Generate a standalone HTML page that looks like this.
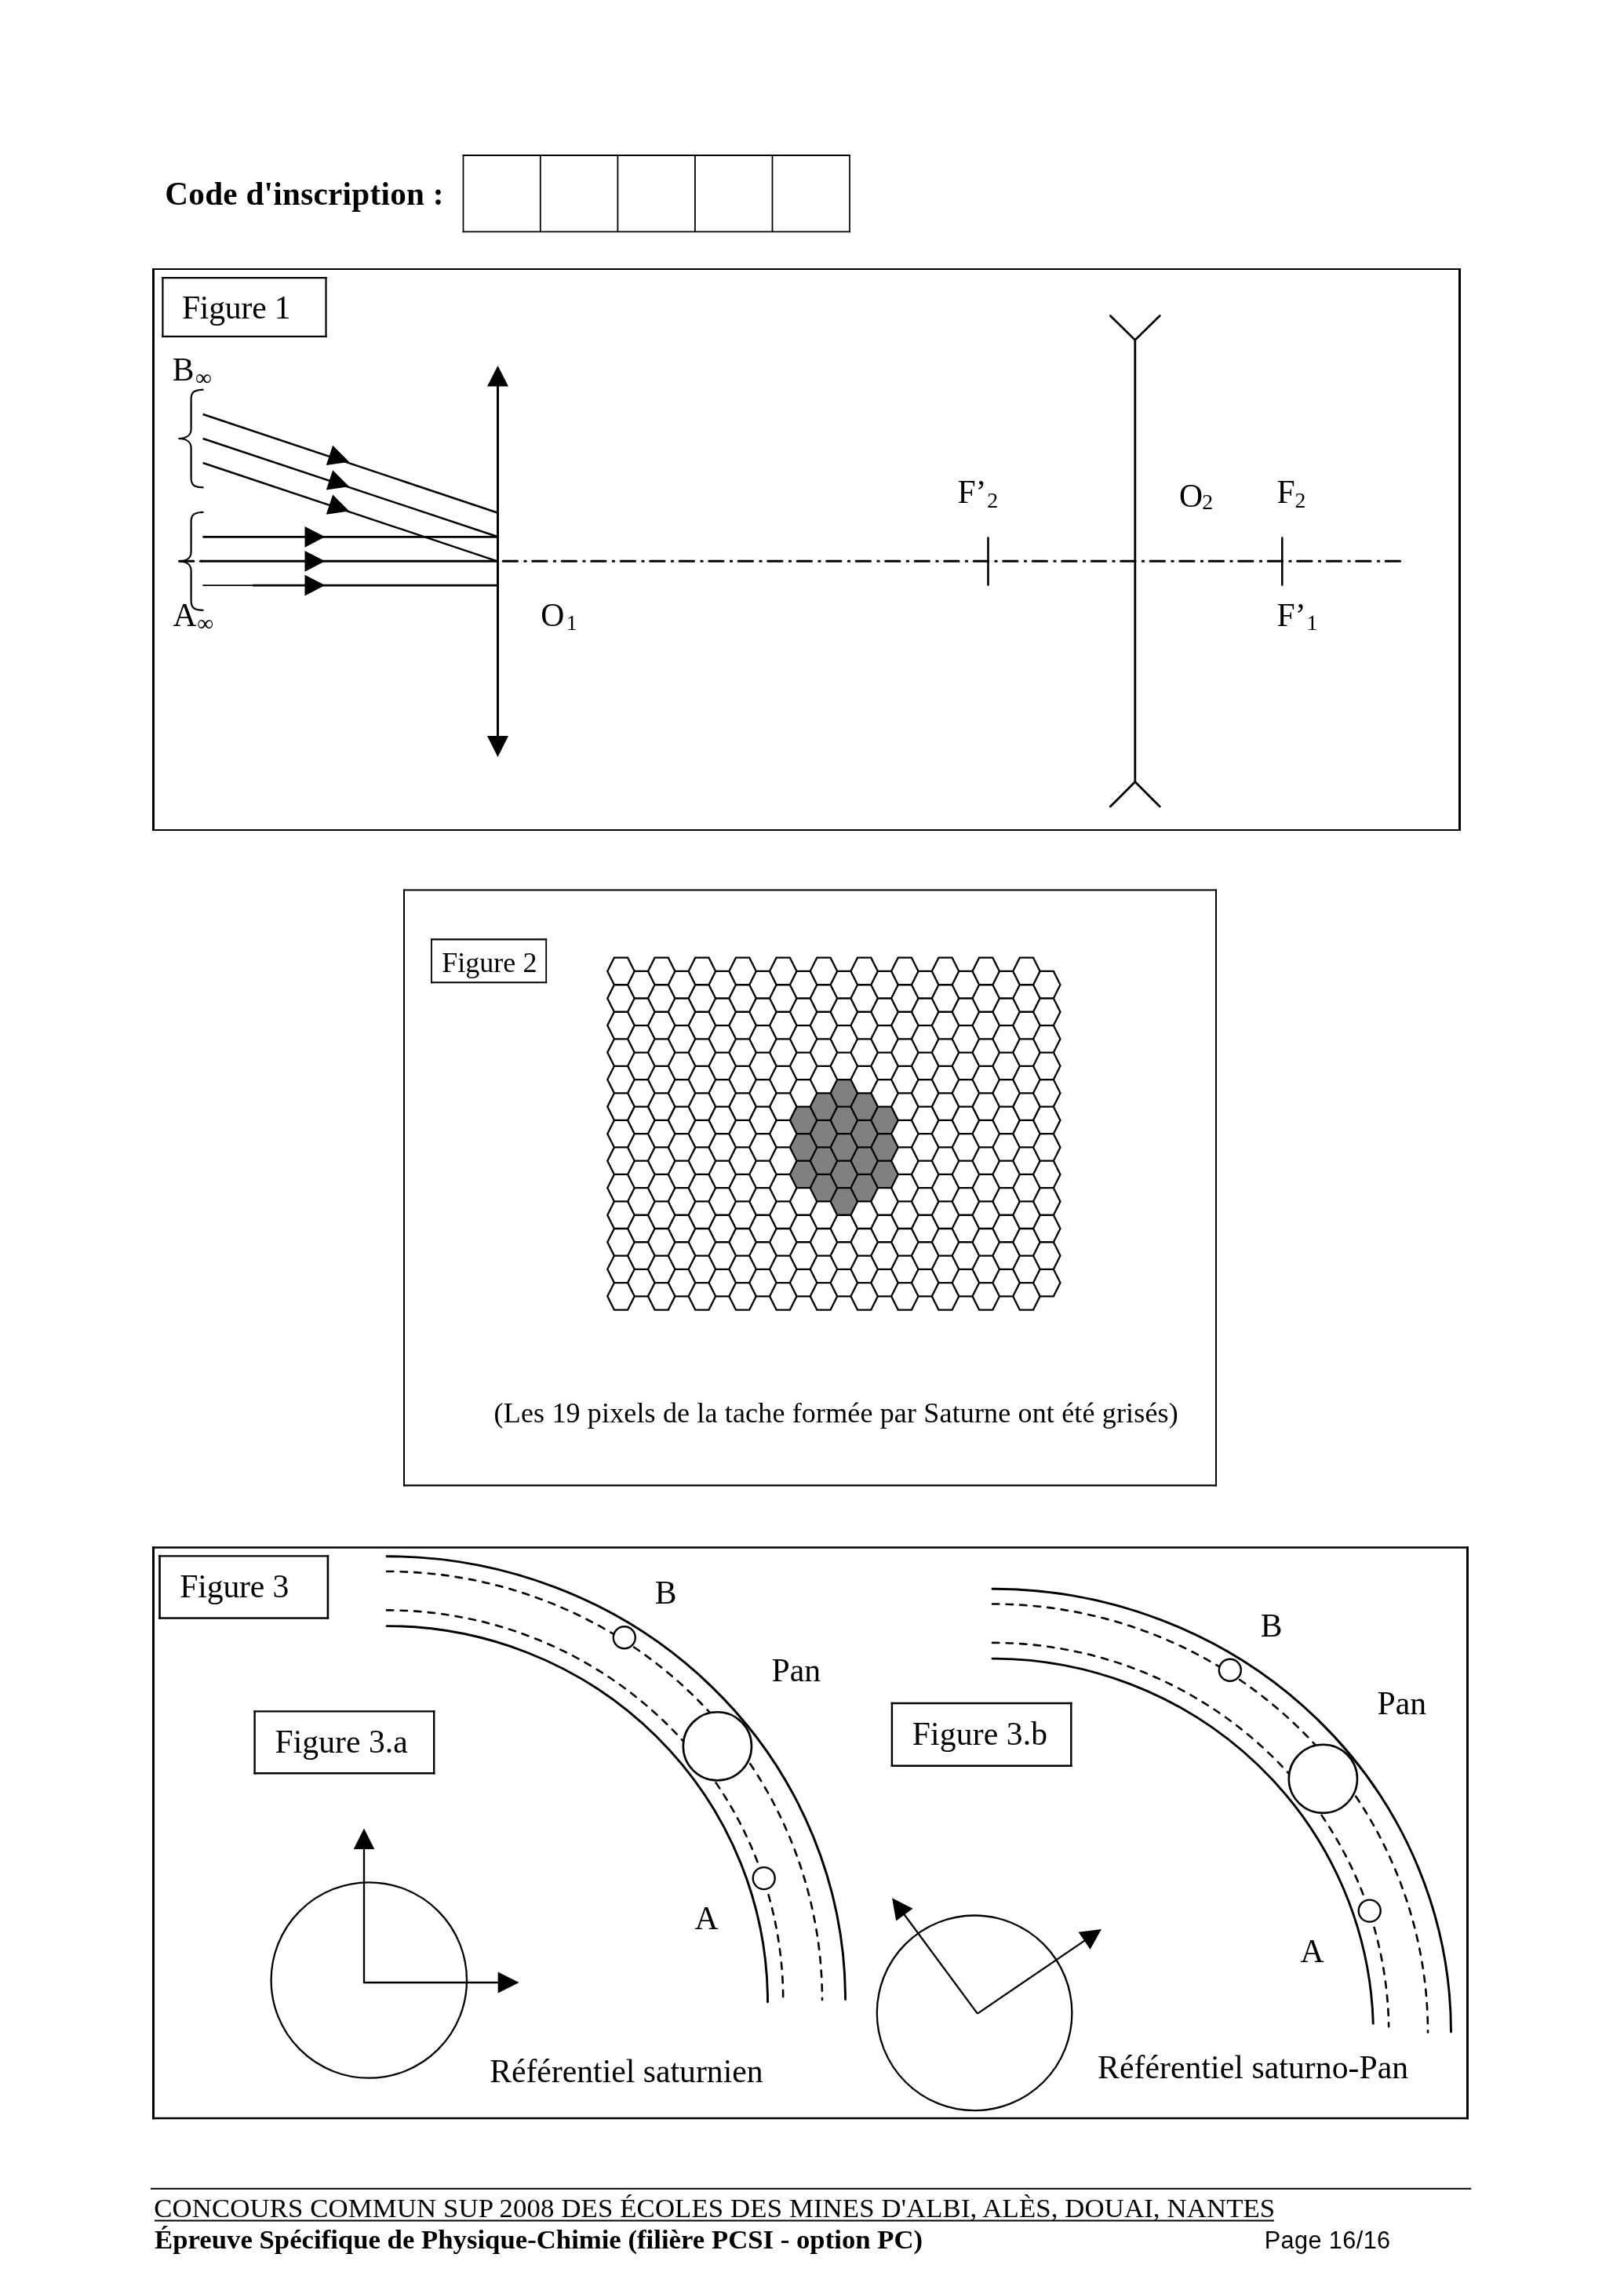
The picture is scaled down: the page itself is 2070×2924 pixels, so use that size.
<!DOCTYPE html>
<html><head><meta charset="utf-8"><title>Page 16/16</title>
<style>
html,body{margin:0;padding:0;background:#fff;}
body{width:2070px;height:2924px;overflow:hidden;font-family:"Liberation Serif", serif;}
svg{display:block;position:absolute;left:0;top:0;will-change:transform;}
</style></head>
<body>
<svg width="2070" height="2924" viewBox="0 0 2070 2924">
<rect x="0" y="0" width="2070" height="2924" fill="#fff"/>
<text x="210.28" y="260.80" font-family='"Liberation Serif", serif' font-size="41.18" font-weight="bold" textLength="355.18" lengthAdjust="spacing" >Code d'inscription :</text>
<path d="M589.65,198.00 H1083.85 M589.65,295.30 H1083.85" stroke="#000" stroke-width="1.8" fill="none"/>
<path d="M590.50,197.10 V296.20 M1083.00,197.10 V296.20" stroke="#000" stroke-width="1.7" fill="none"/>
<line x1="688.80" y1="197.60" x2="688.80" y2="295.80" stroke="#000" stroke-width="1.8" />
<line x1="787.40" y1="197.60" x2="787.40" y2="295.80" stroke="#000" stroke-width="1.8" />
<line x1="885.90" y1="197.60" x2="885.90" y2="295.80" stroke="#000" stroke-width="1.8" />
<line x1="984.50" y1="197.60" x2="984.50" y2="295.80" stroke="#000" stroke-width="1.8" />
<path d="M194.00,343.00 H1862.00 M194.00,1058.00 H1862.00" stroke="#000" stroke-width="2" fill="none"/>
<path d="M195.50,342.00 V1059.00 M1860.50,342.00 V1059.00" stroke="#000" stroke-width="3" fill="none"/>
<path d="M206.30,354.20 H416.60 M206.30,428.80 H416.60" stroke="#000" stroke-width="2.2" fill="none"/>
<path d="M207.40,353.10 V429.90 M415.50,353.10 V429.90" stroke="#000" stroke-width="2.2" fill="none"/>
<text x="231.89" y="405.70" font-family='"Liberation Serif", serif' font-size="41.67" font-weight="normal" textLength="138.60" lengthAdjust="spacing" >Figure 1</text>
<text x="219.79" y="484.80" font-family='"Liberation Serif", serif' font-size="41.67" font-weight="normal" >B</text>
<text x="249.00" y="490.80" font-family='"Liberation Serif", serif' font-size="29.00" font-weight="normal" >∞</text>
<text x="220.58" y="797.80" font-family='"Liberation Serif", serif' font-size="41.67" font-weight="normal" >A</text>
<text x="251.20" y="803.90" font-family='"Liberation Serif", serif' font-size="29.00" font-weight="normal" >∞</text>
<text x="689.29" y="798.30" font-family='"Liberation Serif", serif' font-size="41.67" font-weight="normal" >O</text>
<text x="721.85" y="803.00" font-family='"Liberation Serif", serif' font-size="27.80" font-weight="normal" >1</text>
<text x="1220.39" y="641.30" font-family='"Liberation Serif", serif' font-size="41.67" font-weight="normal" >F’</text>
<text x="1258.28" y="646.80" font-family='"Liberation Serif", serif' font-size="27.80" font-weight="normal" >2</text>
<text x="1502.89" y="645.70" font-family='"Liberation Serif", serif' font-size="41.67" font-weight="normal" >O</text>
<text x="1532.28" y="649.30" font-family='"Liberation Serif", serif' font-size="27.80" font-weight="normal" >2</text>
<text x="1627.59" y="641.40" font-family='"Liberation Serif", serif' font-size="41.67" font-weight="normal" >F</text>
<text x="1650.58" y="646.70" font-family='"Liberation Serif", serif' font-size="27.80" font-weight="normal" >2</text>
<text x="1627.59" y="798.00" font-family='"Liberation Serif", serif' font-size="41.67" font-weight="normal" >F’</text>
<text x="1665.55" y="803.00" font-family='"Liberation Serif", serif' font-size="27.80" font-weight="normal" >1</text>
<path d="M259.50,496.70 C246.60,496.70 243.60,500.70 243.60,508.70 L243.60,547.00 C243.60,556.00 235.40,559.00 227.40,559.00 C235.40,559.00 243.60,562.00 243.60,571.00 L243.60,609.30 C243.60,617.30 246.60,621.30 259.50,621.30" fill="none" stroke="#000" stroke-width="2.2"/>
<path d="M259.50,652.90 C246.60,652.90 243.60,656.90 243.60,664.90 L243.60,703.40 C243.60,712.40 235.40,715.40 227.40,715.40 C235.40,715.40 243.60,718.40 243.60,727.40 L243.60,765.80 C243.60,773.80 246.60,777.80 259.50,777.80" fill="none" stroke="#000" stroke-width="2.2"/>
<line x1="229.00" y1="715.30" x2="246.80" y2="715.30" stroke="#000" stroke-width="3.1" stroke-linecap="round"/>
<line x1="255.40" y1="715.30" x2="256.60" y2="715.30" stroke="#000" stroke-width="3.1" stroke-linecap="round"/>
<line x1="641.20" y1="715.30" x2="1784.60" y2="715.30" stroke="#000" stroke-width="3.1" stroke-dasharray="18.3 9.3 1.4 8.5" stroke-linecap="round"/>
<line x1="258.40" y1="684.30" x2="634.00" y2="684.30" stroke="#000" stroke-width="2.7" />
<line x1="255.80" y1="715.30" x2="634.00" y2="715.30" stroke="#000" stroke-width="3.0" />
<line x1="258.40" y1="746.10" x2="322.00" y2="746.10" stroke="#000" stroke-width="1.6" />
<line x1="322.00" y1="746.10" x2="634.00" y2="746.10" stroke="#000" stroke-width="2.8" />
<polygon points="414.30,684.30 388.50,670.90 388.50,697.70" fill="#000"/>
<polygon points="414.30,715.30 388.50,701.90 388.50,728.70" fill="#000"/>
<polygon points="414.30,746.10 388.50,732.70 388.50,759.50" fill="#000"/>
<line x1="258.60" y1="528.00" x2="634.00" y2="653.50" stroke="#000" stroke-width="2.4" />
<polygon points="445.10,588.80 415.75,593.01 424.18,567.78" fill="#000"/>
<line x1="258.60" y1="559.00" x2="634.00" y2="684.00" stroke="#000" stroke-width="2.4" />
<polygon points="445.10,620.20 415.76,624.45 424.16,599.21" fill="#000"/>
<line x1="258.60" y1="590.00" x2="634.00" y2="715.30" stroke="#000" stroke-width="2.4" />
<polygon points="445.10,651.60 415.75,655.83 424.17,630.59" fill="#000"/>
<line x1="634.50" y1="485.00" x2="634.50" y2="945.00" stroke="#000" stroke-width="3.0" />
<polygon points="634.50,466.00 621.00,492.40 648.00,492.40" fill="#000"/>
<polygon points="634.50,965.00 621.00,938.00 648.00,938.00" fill="#000"/>
<line x1="1446.80" y1="433.40" x2="1446.80" y2="996.60" stroke="#000" stroke-width="2.8" />
<polyline points="1415.3,402.6 1446.8,433.4 1478.3,402.6" fill="none" stroke="#000" stroke-width="2.8" stroke-linejoin="miter" stroke-linecap="round"/>
<polyline points="1415.3,1028.1 1446.8,996.6 1478.3,1028.1" fill="none" stroke="#000" stroke-width="2.8" stroke-linejoin="miter" stroke-linecap="round"/>
<line x1="1259.50" y1="685.60" x2="1259.50" y2="745.40" stroke="#000" stroke-width="2.6" stroke-linecap="round"/>
<line x1="1634.30" y1="685.50" x2="1634.30" y2="745.60" stroke="#000" stroke-width="2.6" stroke-linecap="round"/>
<path d="M514.00,1134.50 H1551.00 M514.00,1893.40 H1551.00" stroke="#000" stroke-width="2.2" fill="none"/>
<path d="M515.00,1133.40 V1894.50 M1550.00,1133.40 V1894.50" stroke="#000" stroke-width="2" fill="none"/>
<path d="M549.10,1197.40 H697.10 M549.10,1252.30 H697.10" stroke="#000" stroke-width="2.1" fill="none"/>
<path d="M550.00,1196.35 V1253.35 M696.20,1196.35 V1253.35" stroke="#000" stroke-width="1.8" fill="none"/>
<text x="563.26" y="1238.80" font-family='"Liberation Serif", serif' font-size="36.00" font-weight="normal" textLength="121.12" lengthAdjust="spacing" >Figure 2</text>
<path d="M1006.88,1427.88 L1015.49,1410.62 L1032.72,1410.62 L1041.34,1427.88 L1032.72,1445.15 L1015.49,1445.15Z M1006.88,1462.41 L1015.49,1445.15 L1032.72,1445.15 L1041.34,1462.41 L1032.72,1479.68 L1015.49,1479.68Z M1006.88,1496.94 L1015.49,1479.68 L1032.72,1479.68 L1041.34,1496.94 L1032.72,1514.21 L1015.49,1514.21Z M1032.72,1410.62 L1041.34,1393.35 L1058.57,1393.35 L1067.18,1410.62 L1058.57,1427.88 L1041.34,1427.88Z M1032.72,1445.15 L1041.34,1427.88 L1058.57,1427.88 L1067.18,1445.15 L1058.57,1462.41 L1041.34,1462.41Z M1032.72,1479.68 L1041.34,1462.41 L1058.57,1462.41 L1067.18,1479.68 L1058.57,1496.94 L1041.34,1496.94Z M1032.72,1514.21 L1041.34,1496.94 L1058.57,1496.94 L1067.18,1514.21 L1058.57,1531.47 L1041.34,1531.47Z M1058.57,1393.35 L1067.18,1376.09 L1084.41,1376.09 L1093.03,1393.35 L1084.41,1410.62 L1067.18,1410.62Z M1058.57,1427.88 L1067.18,1410.62 L1084.41,1410.62 L1093.03,1427.88 L1084.41,1445.15 L1067.18,1445.15Z M1058.57,1462.41 L1067.18,1445.15 L1084.41,1445.15 L1093.03,1462.41 L1084.41,1479.68 L1067.18,1479.68Z M1058.57,1496.94 L1067.18,1479.68 L1084.41,1479.68 L1093.03,1496.94 L1084.41,1514.21 L1067.18,1514.21Z M1058.57,1531.47 L1067.18,1514.21 L1084.41,1514.21 L1093.03,1531.47 L1084.41,1548.74 L1067.18,1548.74Z M1084.41,1410.62 L1093.02,1393.35 L1110.25,1393.35 L1118.87,1410.62 L1110.25,1427.88 L1093.02,1427.88Z M1084.41,1445.15 L1093.02,1427.88 L1110.25,1427.88 L1118.87,1445.15 L1110.25,1462.41 L1093.02,1462.41Z M1084.41,1479.68 L1093.02,1462.41 L1110.25,1462.41 L1118.87,1479.68 L1110.25,1496.94 L1093.02,1496.94Z M1084.41,1514.21 L1093.02,1496.94 L1110.25,1496.94 L1118.87,1514.21 L1110.25,1531.47 L1093.02,1531.47Z M1110.26,1427.88 L1118.87,1410.62 L1136.10,1410.62 L1144.72,1427.88 L1136.10,1445.15 L1118.87,1445.15Z M1110.26,1462.41 L1118.87,1445.15 L1136.10,1445.15 L1144.72,1462.41 L1136.10,1479.68 L1118.87,1479.68Z M1110.26,1496.94 L1118.87,1479.68 L1136.10,1479.68 L1144.72,1496.94 L1136.10,1514.21 L1118.87,1514.21Z" fill="#808080" stroke="none"/>
<path d="M774.27,1237.97 L782.88,1220.70 L800.12,1220.70 L808.73,1237.97 L800.12,1255.23 L782.88,1255.23Z M774.27,1272.50 L782.88,1255.23 L800.12,1255.23 L808.73,1272.50 L800.12,1289.76 L782.88,1289.76Z M774.27,1307.03 L782.88,1289.76 L800.12,1289.76 L808.73,1307.03 L800.12,1324.29 L782.88,1324.29Z M774.27,1341.56 L782.88,1324.29 L800.12,1324.29 L808.73,1341.56 L800.12,1358.82 L782.88,1358.82Z M774.27,1376.09 L782.88,1358.82 L800.12,1358.82 L808.73,1376.09 L800.12,1393.35 L782.88,1393.35Z M774.27,1410.62 L782.88,1393.35 L800.12,1393.35 L808.73,1410.62 L800.12,1427.88 L782.88,1427.88Z M774.27,1445.15 L782.88,1427.88 L800.12,1427.88 L808.73,1445.15 L800.12,1462.41 L782.88,1462.41Z M774.27,1479.68 L782.88,1462.41 L800.12,1462.41 L808.73,1479.68 L800.12,1496.94 L782.88,1496.94Z M774.27,1514.21 L782.88,1496.94 L800.12,1496.94 L808.73,1514.21 L800.12,1531.47 L782.88,1531.47Z M774.27,1548.74 L782.88,1531.47 L800.12,1531.47 L808.73,1548.74 L800.12,1566.00 L782.88,1566.00Z M774.27,1583.27 L782.88,1566.00 L800.12,1566.00 L808.73,1583.27 L800.12,1600.53 L782.88,1600.53Z M774.27,1617.80 L782.88,1600.53 L800.12,1600.53 L808.73,1617.80 L800.12,1635.06 L782.88,1635.06Z M774.27,1652.33 L782.88,1635.06 L800.12,1635.06 L808.73,1652.33 L800.12,1669.59 L782.88,1669.59Z M800.12,1255.23 L808.73,1237.97 L825.96,1237.97 L834.58,1255.23 L825.96,1272.50 L808.73,1272.50Z M800.12,1289.76 L808.73,1272.50 L825.96,1272.50 L834.58,1289.76 L825.96,1307.03 L808.73,1307.03Z M800.12,1324.29 L808.73,1307.03 L825.96,1307.03 L834.58,1324.29 L825.96,1341.56 L808.73,1341.56Z M800.12,1358.82 L808.73,1341.56 L825.96,1341.56 L834.58,1358.82 L825.96,1376.09 L808.73,1376.09Z M800.12,1393.35 L808.73,1376.09 L825.96,1376.09 L834.58,1393.35 L825.96,1410.62 L808.73,1410.62Z M800.12,1427.88 L808.73,1410.62 L825.96,1410.62 L834.58,1427.88 L825.96,1445.15 L808.73,1445.15Z M800.12,1462.41 L808.73,1445.15 L825.96,1445.15 L834.58,1462.41 L825.96,1479.68 L808.73,1479.68Z M800.12,1496.94 L808.73,1479.68 L825.96,1479.68 L834.58,1496.94 L825.96,1514.21 L808.73,1514.21Z M800.12,1531.47 L808.73,1514.21 L825.96,1514.21 L834.58,1531.47 L825.96,1548.74 L808.73,1548.74Z M800.12,1566.00 L808.73,1548.74 L825.96,1548.74 L834.58,1566.00 L825.96,1583.27 L808.73,1583.27Z M800.12,1600.53 L808.73,1583.27 L825.96,1583.27 L834.58,1600.53 L825.96,1617.80 L808.73,1617.80Z M800.12,1635.06 L808.73,1617.80 L825.96,1617.80 L834.58,1635.06 L825.96,1652.33 L808.73,1652.33Z M825.96,1237.97 L834.58,1220.70 L851.81,1220.70 L860.42,1237.97 L851.81,1255.23 L834.58,1255.23Z M825.96,1272.50 L834.58,1255.23 L851.81,1255.23 L860.42,1272.50 L851.81,1289.76 L834.58,1289.76Z M825.96,1307.03 L834.58,1289.76 L851.81,1289.76 L860.42,1307.03 L851.81,1324.29 L834.58,1324.29Z M825.96,1341.56 L834.58,1324.29 L851.81,1324.29 L860.42,1341.56 L851.81,1358.82 L834.58,1358.82Z M825.96,1376.09 L834.58,1358.82 L851.81,1358.82 L860.42,1376.09 L851.81,1393.35 L834.58,1393.35Z M825.96,1410.62 L834.58,1393.35 L851.81,1393.35 L860.42,1410.62 L851.81,1427.88 L834.58,1427.88Z M825.96,1445.15 L834.58,1427.88 L851.81,1427.88 L860.42,1445.15 L851.81,1462.41 L834.58,1462.41Z M825.96,1479.68 L834.58,1462.41 L851.81,1462.41 L860.42,1479.68 L851.81,1496.94 L834.58,1496.94Z M825.96,1514.21 L834.58,1496.94 L851.81,1496.94 L860.42,1514.21 L851.81,1531.47 L834.58,1531.47Z M825.96,1548.74 L834.58,1531.47 L851.81,1531.47 L860.42,1548.74 L851.81,1566.00 L834.58,1566.00Z M825.96,1583.27 L834.58,1566.00 L851.81,1566.00 L860.42,1583.27 L851.81,1600.53 L834.58,1600.53Z M825.96,1617.80 L834.58,1600.53 L851.81,1600.53 L860.42,1617.80 L851.81,1635.06 L834.58,1635.06Z M825.96,1652.33 L834.58,1635.06 L851.81,1635.06 L860.42,1652.33 L851.81,1669.59 L834.58,1669.59Z M851.80,1255.23 L860.42,1237.97 L877.65,1237.97 L886.26,1255.23 L877.65,1272.50 L860.42,1272.50Z M851.80,1289.76 L860.42,1272.50 L877.65,1272.50 L886.26,1289.76 L877.65,1307.03 L860.42,1307.03Z M851.80,1324.29 L860.42,1307.03 L877.65,1307.03 L886.26,1324.29 L877.65,1341.56 L860.42,1341.56Z M851.80,1358.82 L860.42,1341.56 L877.65,1341.56 L886.26,1358.82 L877.65,1376.09 L860.42,1376.09Z M851.80,1393.35 L860.42,1376.09 L877.65,1376.09 L886.26,1393.35 L877.65,1410.62 L860.42,1410.62Z M851.80,1427.88 L860.42,1410.62 L877.65,1410.62 L886.26,1427.88 L877.65,1445.15 L860.42,1445.15Z M851.80,1462.41 L860.42,1445.15 L877.65,1445.15 L886.26,1462.41 L877.65,1479.68 L860.42,1479.68Z M851.80,1496.94 L860.42,1479.68 L877.65,1479.68 L886.26,1496.94 L877.65,1514.21 L860.42,1514.21Z M851.80,1531.47 L860.42,1514.21 L877.65,1514.21 L886.26,1531.47 L877.65,1548.74 L860.42,1548.74Z M851.80,1566.00 L860.42,1548.74 L877.65,1548.74 L886.26,1566.00 L877.65,1583.27 L860.42,1583.27Z M851.80,1600.53 L860.42,1583.27 L877.65,1583.27 L886.26,1600.53 L877.65,1617.80 L860.42,1617.80Z M851.80,1635.06 L860.42,1617.80 L877.65,1617.80 L886.26,1635.06 L877.65,1652.33 L860.42,1652.33Z M877.65,1237.97 L886.26,1220.70 L903.50,1220.70 L912.11,1237.97 L903.50,1255.23 L886.26,1255.23Z M877.65,1272.50 L886.26,1255.23 L903.50,1255.23 L912.11,1272.50 L903.50,1289.76 L886.26,1289.76Z M877.65,1307.03 L886.26,1289.76 L903.50,1289.76 L912.11,1307.03 L903.50,1324.29 L886.26,1324.29Z M877.65,1341.56 L886.26,1324.29 L903.50,1324.29 L912.11,1341.56 L903.50,1358.82 L886.26,1358.82Z M877.65,1376.09 L886.26,1358.82 L903.50,1358.82 L912.11,1376.09 L903.50,1393.35 L886.26,1393.35Z M877.65,1410.62 L886.26,1393.35 L903.50,1393.35 L912.11,1410.62 L903.50,1427.88 L886.26,1427.88Z M877.65,1445.15 L886.26,1427.88 L903.50,1427.88 L912.11,1445.15 L903.50,1462.41 L886.26,1462.41Z M877.65,1479.68 L886.26,1462.41 L903.50,1462.41 L912.11,1479.68 L903.50,1496.94 L886.26,1496.94Z M877.65,1514.21 L886.26,1496.94 L903.50,1496.94 L912.11,1514.21 L903.50,1531.47 L886.26,1531.47Z M877.65,1548.74 L886.26,1531.47 L903.50,1531.47 L912.11,1548.74 L903.50,1566.00 L886.26,1566.00Z M877.65,1583.27 L886.26,1566.00 L903.50,1566.00 L912.11,1583.27 L903.50,1600.53 L886.26,1600.53Z M877.65,1617.80 L886.26,1600.53 L903.50,1600.53 L912.11,1617.80 L903.50,1635.06 L886.26,1635.06Z M877.65,1652.33 L886.26,1635.06 L903.50,1635.06 L912.11,1652.33 L903.50,1669.59 L886.26,1669.59Z M903.50,1255.23 L912.11,1237.97 L929.34,1237.97 L937.96,1255.23 L929.34,1272.50 L912.11,1272.50Z M903.50,1289.76 L912.11,1272.50 L929.34,1272.50 L937.96,1289.76 L929.34,1307.03 L912.11,1307.03Z M903.50,1324.29 L912.11,1307.03 L929.34,1307.03 L937.96,1324.29 L929.34,1341.56 L912.11,1341.56Z M903.50,1358.82 L912.11,1341.56 L929.34,1341.56 L937.96,1358.82 L929.34,1376.09 L912.11,1376.09Z M903.50,1393.35 L912.11,1376.09 L929.34,1376.09 L937.96,1393.35 L929.34,1410.62 L912.11,1410.62Z M903.50,1427.88 L912.11,1410.62 L929.34,1410.62 L937.96,1427.88 L929.34,1445.15 L912.11,1445.15Z M903.50,1462.41 L912.11,1445.15 L929.34,1445.15 L937.96,1462.41 L929.34,1479.68 L912.11,1479.68Z M903.50,1496.94 L912.11,1479.68 L929.34,1479.68 L937.96,1496.94 L929.34,1514.21 L912.11,1514.21Z M903.50,1531.47 L912.11,1514.21 L929.34,1514.21 L937.96,1531.47 L929.34,1548.74 L912.11,1548.74Z M903.50,1566.00 L912.11,1548.74 L929.34,1548.74 L937.96,1566.00 L929.34,1583.27 L912.11,1583.27Z M903.50,1600.53 L912.11,1583.27 L929.34,1583.27 L937.96,1600.53 L929.34,1617.80 L912.11,1617.80Z M903.50,1635.06 L912.11,1617.80 L929.34,1617.80 L937.96,1635.06 L929.34,1652.33 L912.11,1652.33Z M929.34,1237.97 L937.95,1220.70 L955.18,1220.70 L963.80,1237.97 L955.18,1255.23 L937.95,1255.23Z M929.34,1272.50 L937.95,1255.23 L955.18,1255.23 L963.80,1272.50 L955.18,1289.76 L937.95,1289.76Z M929.34,1307.03 L937.95,1289.76 L955.18,1289.76 L963.80,1307.03 L955.18,1324.29 L937.95,1324.29Z M929.34,1341.56 L937.95,1324.29 L955.18,1324.29 L963.80,1341.56 L955.18,1358.82 L937.95,1358.82Z M929.34,1376.09 L937.95,1358.82 L955.18,1358.82 L963.80,1376.09 L955.18,1393.35 L937.95,1393.35Z M929.34,1410.62 L937.95,1393.35 L955.18,1393.35 L963.80,1410.62 L955.18,1427.88 L937.95,1427.88Z M929.34,1445.15 L937.95,1427.88 L955.18,1427.88 L963.80,1445.15 L955.18,1462.41 L937.95,1462.41Z M929.34,1479.68 L937.95,1462.41 L955.18,1462.41 L963.80,1479.68 L955.18,1496.94 L937.95,1496.94Z M929.34,1514.21 L937.95,1496.94 L955.18,1496.94 L963.80,1514.21 L955.18,1531.47 L937.95,1531.47Z M929.34,1548.74 L937.95,1531.47 L955.18,1531.47 L963.80,1548.74 L955.18,1566.00 L937.95,1566.00Z M929.34,1583.27 L937.95,1566.00 L955.18,1566.00 L963.80,1583.27 L955.18,1600.53 L937.95,1600.53Z M929.34,1617.80 L937.95,1600.53 L955.18,1600.53 L963.80,1617.80 L955.18,1635.06 L937.95,1635.06Z M929.34,1652.33 L937.95,1635.06 L955.18,1635.06 L963.80,1652.33 L955.18,1669.59 L937.95,1669.59Z M955.18,1255.23 L963.80,1237.97 L981.03,1237.97 L989.64,1255.23 L981.03,1272.50 L963.80,1272.50Z M955.18,1289.76 L963.80,1272.50 L981.03,1272.50 L989.64,1289.76 L981.03,1307.03 L963.80,1307.03Z M955.18,1324.29 L963.80,1307.03 L981.03,1307.03 L989.64,1324.29 L981.03,1341.56 L963.80,1341.56Z M955.18,1358.82 L963.80,1341.56 L981.03,1341.56 L989.64,1358.82 L981.03,1376.09 L963.80,1376.09Z M955.18,1393.35 L963.80,1376.09 L981.03,1376.09 L989.64,1393.35 L981.03,1410.62 L963.80,1410.62Z M955.18,1427.88 L963.80,1410.62 L981.03,1410.62 L989.64,1427.88 L981.03,1445.15 L963.80,1445.15Z M955.18,1462.41 L963.80,1445.15 L981.03,1445.15 L989.64,1462.41 L981.03,1479.68 L963.80,1479.68Z M955.18,1496.94 L963.80,1479.68 L981.03,1479.68 L989.64,1496.94 L981.03,1514.21 L963.80,1514.21Z M955.18,1531.47 L963.80,1514.21 L981.03,1514.21 L989.64,1531.47 L981.03,1548.74 L963.80,1548.74Z M955.18,1566.00 L963.80,1548.74 L981.03,1548.74 L989.64,1566.00 L981.03,1583.27 L963.80,1583.27Z M955.18,1600.53 L963.80,1583.27 L981.03,1583.27 L989.64,1600.53 L981.03,1617.80 L963.80,1617.80Z M955.18,1635.06 L963.80,1617.80 L981.03,1617.80 L989.64,1635.06 L981.03,1652.33 L963.80,1652.33Z M981.03,1237.97 L989.64,1220.70 L1006.88,1220.70 L1015.49,1237.97 L1006.88,1255.23 L989.64,1255.23Z M981.03,1272.50 L989.64,1255.23 L1006.88,1255.23 L1015.49,1272.50 L1006.88,1289.76 L989.64,1289.76Z M981.03,1307.03 L989.64,1289.76 L1006.88,1289.76 L1015.49,1307.03 L1006.88,1324.29 L989.64,1324.29Z M981.03,1341.56 L989.64,1324.29 L1006.88,1324.29 L1015.49,1341.56 L1006.88,1358.82 L989.64,1358.82Z M981.03,1376.09 L989.64,1358.82 L1006.88,1358.82 L1015.49,1376.09 L1006.88,1393.35 L989.64,1393.35Z M981.03,1410.62 L989.64,1393.35 L1006.88,1393.35 L1015.49,1410.62 L1006.88,1427.88 L989.64,1427.88Z M981.03,1445.15 L989.64,1427.88 L1006.88,1427.88 L1015.49,1445.15 L1006.88,1462.41 L989.64,1462.41Z M981.03,1479.68 L989.64,1462.41 L1006.88,1462.41 L1015.49,1479.68 L1006.88,1496.94 L989.64,1496.94Z M981.03,1514.21 L989.64,1496.94 L1006.88,1496.94 L1015.49,1514.21 L1006.88,1531.47 L989.64,1531.47Z M981.03,1548.74 L989.64,1531.47 L1006.88,1531.47 L1015.49,1548.74 L1006.88,1566.00 L989.64,1566.00Z M981.03,1583.27 L989.64,1566.00 L1006.88,1566.00 L1015.49,1583.27 L1006.88,1600.53 L989.64,1600.53Z M981.03,1617.80 L989.64,1600.53 L1006.88,1600.53 L1015.49,1617.80 L1006.88,1635.06 L989.64,1635.06Z M981.03,1652.33 L989.64,1635.06 L1006.88,1635.06 L1015.49,1652.33 L1006.88,1669.59 L989.64,1669.59Z M1006.88,1255.23 L1015.49,1237.97 L1032.72,1237.97 L1041.34,1255.23 L1032.72,1272.50 L1015.49,1272.50Z M1006.88,1289.76 L1015.49,1272.50 L1032.72,1272.50 L1041.34,1289.76 L1032.72,1307.03 L1015.49,1307.03Z M1006.88,1324.29 L1015.49,1307.03 L1032.72,1307.03 L1041.34,1324.29 L1032.72,1341.56 L1015.49,1341.56Z M1006.88,1358.82 L1015.49,1341.56 L1032.72,1341.56 L1041.34,1358.82 L1032.72,1376.09 L1015.49,1376.09Z M1006.88,1393.35 L1015.49,1376.09 L1032.72,1376.09 L1041.34,1393.35 L1032.72,1410.62 L1015.49,1410.62Z M1006.88,1531.47 L1015.49,1514.21 L1032.72,1514.21 L1041.34,1531.47 L1032.72,1548.74 L1015.49,1548.74Z M1006.88,1566.00 L1015.49,1548.74 L1032.72,1548.74 L1041.34,1566.00 L1032.72,1583.27 L1015.49,1583.27Z M1006.88,1600.53 L1015.49,1583.27 L1032.72,1583.27 L1041.34,1600.53 L1032.72,1617.80 L1015.49,1617.80Z M1006.88,1635.06 L1015.49,1617.80 L1032.72,1617.80 L1041.34,1635.06 L1032.72,1652.33 L1015.49,1652.33Z M1032.72,1237.97 L1041.34,1220.70 L1058.57,1220.70 L1067.18,1237.97 L1058.57,1255.23 L1041.34,1255.23Z M1032.72,1272.50 L1041.34,1255.23 L1058.57,1255.23 L1067.18,1272.50 L1058.57,1289.76 L1041.34,1289.76Z M1032.72,1307.03 L1041.34,1289.76 L1058.57,1289.76 L1067.18,1307.03 L1058.57,1324.29 L1041.34,1324.29Z M1032.72,1341.56 L1041.34,1324.29 L1058.57,1324.29 L1067.18,1341.56 L1058.57,1358.82 L1041.34,1358.82Z M1032.72,1376.09 L1041.34,1358.82 L1058.57,1358.82 L1067.18,1376.09 L1058.57,1393.35 L1041.34,1393.35Z M1032.72,1548.74 L1041.34,1531.47 L1058.57,1531.47 L1067.18,1548.74 L1058.57,1566.00 L1041.34,1566.00Z M1032.72,1583.27 L1041.34,1566.00 L1058.57,1566.00 L1067.18,1583.27 L1058.57,1600.53 L1041.34,1600.53Z M1032.72,1617.80 L1041.34,1600.53 L1058.57,1600.53 L1067.18,1617.80 L1058.57,1635.06 L1041.34,1635.06Z M1032.72,1652.33 L1041.34,1635.06 L1058.57,1635.06 L1067.18,1652.33 L1058.57,1669.59 L1041.34,1669.59Z M1058.57,1255.23 L1067.18,1237.97 L1084.41,1237.97 L1093.03,1255.23 L1084.41,1272.50 L1067.18,1272.50Z M1058.57,1289.76 L1067.18,1272.50 L1084.41,1272.50 L1093.03,1289.76 L1084.41,1307.03 L1067.18,1307.03Z M1058.57,1324.29 L1067.18,1307.03 L1084.41,1307.03 L1093.03,1324.29 L1084.41,1341.56 L1067.18,1341.56Z M1058.57,1358.82 L1067.18,1341.56 L1084.41,1341.56 L1093.03,1358.82 L1084.41,1376.09 L1067.18,1376.09Z M1058.57,1566.00 L1067.18,1548.74 L1084.41,1548.74 L1093.03,1566.00 L1084.41,1583.27 L1067.18,1583.27Z M1058.57,1600.53 L1067.18,1583.27 L1084.41,1583.27 L1093.03,1600.53 L1084.41,1617.80 L1067.18,1617.80Z M1058.57,1635.06 L1067.18,1617.80 L1084.41,1617.80 L1093.03,1635.06 L1084.41,1652.33 L1067.18,1652.33Z M1084.41,1237.97 L1093.02,1220.70 L1110.25,1220.70 L1118.87,1237.97 L1110.25,1255.23 L1093.02,1255.23Z M1084.41,1272.50 L1093.02,1255.23 L1110.25,1255.23 L1118.87,1272.50 L1110.25,1289.76 L1093.02,1289.76Z M1084.41,1307.03 L1093.02,1289.76 L1110.25,1289.76 L1118.87,1307.03 L1110.25,1324.29 L1093.02,1324.29Z M1084.41,1341.56 L1093.02,1324.29 L1110.25,1324.29 L1118.87,1341.56 L1110.25,1358.82 L1093.02,1358.82Z M1084.41,1376.09 L1093.02,1358.82 L1110.25,1358.82 L1118.87,1376.09 L1110.25,1393.35 L1093.02,1393.35Z M1084.41,1548.74 L1093.02,1531.47 L1110.25,1531.47 L1118.87,1548.74 L1110.25,1566.00 L1093.02,1566.00Z M1084.41,1583.27 L1093.02,1566.00 L1110.25,1566.00 L1118.87,1583.27 L1110.25,1600.53 L1093.02,1600.53Z M1084.41,1617.80 L1093.02,1600.53 L1110.25,1600.53 L1118.87,1617.80 L1110.25,1635.06 L1093.02,1635.06Z M1084.41,1652.33 L1093.02,1635.06 L1110.25,1635.06 L1118.87,1652.33 L1110.25,1669.59 L1093.02,1669.59Z M1110.26,1255.23 L1118.87,1237.97 L1136.10,1237.97 L1144.72,1255.23 L1136.10,1272.50 L1118.87,1272.50Z M1110.26,1289.76 L1118.87,1272.50 L1136.10,1272.50 L1144.72,1289.76 L1136.10,1307.03 L1118.87,1307.03Z M1110.26,1324.29 L1118.87,1307.03 L1136.10,1307.03 L1144.72,1324.29 L1136.10,1341.56 L1118.87,1341.56Z M1110.26,1358.82 L1118.87,1341.56 L1136.10,1341.56 L1144.72,1358.82 L1136.10,1376.09 L1118.87,1376.09Z M1110.26,1393.35 L1118.87,1376.09 L1136.10,1376.09 L1144.72,1393.35 L1136.10,1410.62 L1118.87,1410.62Z M1110.26,1531.47 L1118.87,1514.21 L1136.10,1514.21 L1144.72,1531.47 L1136.10,1548.74 L1118.87,1548.74Z M1110.26,1566.00 L1118.87,1548.74 L1136.10,1548.74 L1144.72,1566.00 L1136.10,1583.27 L1118.87,1583.27Z M1110.26,1600.53 L1118.87,1583.27 L1136.10,1583.27 L1144.72,1600.53 L1136.10,1617.80 L1118.87,1617.80Z M1110.26,1635.06 L1118.87,1617.80 L1136.10,1617.80 L1144.72,1635.06 L1136.10,1652.33 L1118.87,1652.33Z M1136.10,1237.97 L1144.71,1220.70 L1161.94,1220.70 L1170.56,1237.97 L1161.94,1255.23 L1144.71,1255.23Z M1136.10,1272.50 L1144.71,1255.23 L1161.94,1255.23 L1170.56,1272.50 L1161.94,1289.76 L1144.71,1289.76Z M1136.10,1307.03 L1144.71,1289.76 L1161.94,1289.76 L1170.56,1307.03 L1161.94,1324.29 L1144.71,1324.29Z M1136.10,1341.56 L1144.71,1324.29 L1161.94,1324.29 L1170.56,1341.56 L1161.94,1358.82 L1144.71,1358.82Z M1136.10,1376.09 L1144.71,1358.82 L1161.94,1358.82 L1170.56,1376.09 L1161.94,1393.35 L1144.71,1393.35Z M1136.10,1410.62 L1144.71,1393.35 L1161.94,1393.35 L1170.56,1410.62 L1161.94,1427.88 L1144.71,1427.88Z M1136.10,1445.15 L1144.71,1427.88 L1161.94,1427.88 L1170.56,1445.15 L1161.94,1462.41 L1144.71,1462.41Z M1136.10,1479.68 L1144.71,1462.41 L1161.94,1462.41 L1170.56,1479.68 L1161.94,1496.94 L1144.71,1496.94Z M1136.10,1514.21 L1144.71,1496.94 L1161.94,1496.94 L1170.56,1514.21 L1161.94,1531.47 L1144.71,1531.47Z M1136.10,1548.74 L1144.71,1531.47 L1161.94,1531.47 L1170.56,1548.74 L1161.94,1566.00 L1144.71,1566.00Z M1136.10,1583.27 L1144.71,1566.00 L1161.94,1566.00 L1170.56,1583.27 L1161.94,1600.53 L1144.71,1600.53Z M1136.10,1617.80 L1144.71,1600.53 L1161.94,1600.53 L1170.56,1617.80 L1161.94,1635.06 L1144.71,1635.06Z M1136.10,1652.33 L1144.71,1635.06 L1161.94,1635.06 L1170.56,1652.33 L1161.94,1669.59 L1144.71,1669.59Z M1161.94,1255.23 L1170.56,1237.97 L1187.79,1237.97 L1196.40,1255.23 L1187.79,1272.50 L1170.56,1272.50Z M1161.94,1289.76 L1170.56,1272.50 L1187.79,1272.50 L1196.40,1289.76 L1187.79,1307.03 L1170.56,1307.03Z M1161.94,1324.29 L1170.56,1307.03 L1187.79,1307.03 L1196.40,1324.29 L1187.79,1341.56 L1170.56,1341.56Z M1161.94,1358.82 L1170.56,1341.56 L1187.79,1341.56 L1196.40,1358.82 L1187.79,1376.09 L1170.56,1376.09Z M1161.94,1393.35 L1170.56,1376.09 L1187.79,1376.09 L1196.40,1393.35 L1187.79,1410.62 L1170.56,1410.62Z M1161.94,1427.88 L1170.56,1410.62 L1187.79,1410.62 L1196.40,1427.88 L1187.79,1445.15 L1170.56,1445.15Z M1161.94,1462.41 L1170.56,1445.15 L1187.79,1445.15 L1196.40,1462.41 L1187.79,1479.68 L1170.56,1479.68Z M1161.94,1496.94 L1170.56,1479.68 L1187.79,1479.68 L1196.40,1496.94 L1187.79,1514.21 L1170.56,1514.21Z M1161.94,1531.47 L1170.56,1514.21 L1187.79,1514.21 L1196.40,1531.47 L1187.79,1548.74 L1170.56,1548.74Z M1161.94,1566.00 L1170.56,1548.74 L1187.79,1548.74 L1196.40,1566.00 L1187.79,1583.27 L1170.56,1583.27Z M1161.94,1600.53 L1170.56,1583.27 L1187.79,1583.27 L1196.40,1600.53 L1187.79,1617.80 L1170.56,1617.80Z M1161.94,1635.06 L1170.56,1617.80 L1187.79,1617.80 L1196.40,1635.06 L1187.79,1652.33 L1170.56,1652.33Z M1187.79,1237.97 L1196.40,1220.70 L1213.63,1220.70 L1222.25,1237.97 L1213.63,1255.23 L1196.40,1255.23Z M1187.79,1272.50 L1196.40,1255.23 L1213.63,1255.23 L1222.25,1272.50 L1213.63,1289.76 L1196.40,1289.76Z M1187.79,1307.03 L1196.40,1289.76 L1213.63,1289.76 L1222.25,1307.03 L1213.63,1324.29 L1196.40,1324.29Z M1187.79,1341.56 L1196.40,1324.29 L1213.63,1324.29 L1222.25,1341.56 L1213.63,1358.82 L1196.40,1358.82Z M1187.79,1376.09 L1196.40,1358.82 L1213.63,1358.82 L1222.25,1376.09 L1213.63,1393.35 L1196.40,1393.35Z M1187.79,1410.62 L1196.40,1393.35 L1213.63,1393.35 L1222.25,1410.62 L1213.63,1427.88 L1196.40,1427.88Z M1187.79,1445.15 L1196.40,1427.88 L1213.63,1427.88 L1222.25,1445.15 L1213.63,1462.41 L1196.40,1462.41Z M1187.79,1479.68 L1196.40,1462.41 L1213.63,1462.41 L1222.25,1479.68 L1213.63,1496.94 L1196.40,1496.94Z M1187.79,1514.21 L1196.40,1496.94 L1213.63,1496.94 L1222.25,1514.21 L1213.63,1531.47 L1196.40,1531.47Z M1187.79,1548.74 L1196.40,1531.47 L1213.63,1531.47 L1222.25,1548.74 L1213.63,1566.00 L1196.40,1566.00Z M1187.79,1583.27 L1196.40,1566.00 L1213.63,1566.00 L1222.25,1583.27 L1213.63,1600.53 L1196.40,1600.53Z M1187.79,1617.80 L1196.40,1600.53 L1213.63,1600.53 L1222.25,1617.80 L1213.63,1635.06 L1196.40,1635.06Z M1187.79,1652.33 L1196.40,1635.06 L1213.63,1635.06 L1222.25,1652.33 L1213.63,1669.59 L1196.40,1669.59Z M1213.63,1255.23 L1222.25,1237.97 L1239.48,1237.97 L1248.10,1255.23 L1239.48,1272.50 L1222.25,1272.50Z M1213.63,1289.76 L1222.25,1272.50 L1239.48,1272.50 L1248.10,1289.76 L1239.48,1307.03 L1222.25,1307.03Z M1213.63,1324.29 L1222.25,1307.03 L1239.48,1307.03 L1248.10,1324.29 L1239.48,1341.56 L1222.25,1341.56Z M1213.63,1358.82 L1222.25,1341.56 L1239.48,1341.56 L1248.10,1358.82 L1239.48,1376.09 L1222.25,1376.09Z M1213.63,1393.35 L1222.25,1376.09 L1239.48,1376.09 L1248.10,1393.35 L1239.48,1410.62 L1222.25,1410.62Z M1213.63,1427.88 L1222.25,1410.62 L1239.48,1410.62 L1248.10,1427.88 L1239.48,1445.15 L1222.25,1445.15Z M1213.63,1462.41 L1222.25,1445.15 L1239.48,1445.15 L1248.10,1462.41 L1239.48,1479.68 L1222.25,1479.68Z M1213.63,1496.94 L1222.25,1479.68 L1239.48,1479.68 L1248.10,1496.94 L1239.48,1514.21 L1222.25,1514.21Z M1213.63,1531.47 L1222.25,1514.21 L1239.48,1514.21 L1248.10,1531.47 L1239.48,1548.74 L1222.25,1548.74Z M1213.63,1566.00 L1222.25,1548.74 L1239.48,1548.74 L1248.10,1566.00 L1239.48,1583.27 L1222.25,1583.27Z M1213.63,1600.53 L1222.25,1583.27 L1239.48,1583.27 L1248.10,1600.53 L1239.48,1617.80 L1222.25,1617.80Z M1213.63,1635.06 L1222.25,1617.80 L1239.48,1617.80 L1248.10,1635.06 L1239.48,1652.33 L1222.25,1652.33Z M1239.48,1237.97 L1248.10,1220.70 L1265.33,1220.70 L1273.94,1237.97 L1265.33,1255.23 L1248.10,1255.23Z M1239.48,1272.50 L1248.10,1255.23 L1265.33,1255.23 L1273.94,1272.50 L1265.33,1289.76 L1248.10,1289.76Z M1239.48,1307.03 L1248.10,1289.76 L1265.33,1289.76 L1273.94,1307.03 L1265.33,1324.29 L1248.10,1324.29Z M1239.48,1341.56 L1248.10,1324.29 L1265.33,1324.29 L1273.94,1341.56 L1265.33,1358.82 L1248.10,1358.82Z M1239.48,1376.09 L1248.10,1358.82 L1265.33,1358.82 L1273.94,1376.09 L1265.33,1393.35 L1248.10,1393.35Z M1239.48,1410.62 L1248.10,1393.35 L1265.33,1393.35 L1273.94,1410.62 L1265.33,1427.88 L1248.10,1427.88Z M1239.48,1445.15 L1248.10,1427.88 L1265.33,1427.88 L1273.94,1445.15 L1265.33,1462.41 L1248.10,1462.41Z M1239.48,1479.68 L1248.10,1462.41 L1265.33,1462.41 L1273.94,1479.68 L1265.33,1496.94 L1248.10,1496.94Z M1239.48,1514.21 L1248.10,1496.94 L1265.33,1496.94 L1273.94,1514.21 L1265.33,1531.47 L1248.10,1531.47Z M1239.48,1548.74 L1248.10,1531.47 L1265.33,1531.47 L1273.94,1548.74 L1265.33,1566.00 L1248.10,1566.00Z M1239.48,1583.27 L1248.10,1566.00 L1265.33,1566.00 L1273.94,1583.27 L1265.33,1600.53 L1248.10,1600.53Z M1239.48,1617.80 L1248.10,1600.53 L1265.33,1600.53 L1273.94,1617.80 L1265.33,1635.06 L1248.10,1635.06Z M1239.48,1652.33 L1248.10,1635.06 L1265.33,1635.06 L1273.94,1652.33 L1265.33,1669.59 L1248.10,1669.59Z M1265.33,1255.23 L1273.94,1237.97 L1291.17,1237.97 L1299.79,1255.23 L1291.17,1272.50 L1273.94,1272.50Z M1265.33,1289.76 L1273.94,1272.50 L1291.17,1272.50 L1299.79,1289.76 L1291.17,1307.03 L1273.94,1307.03Z M1265.33,1324.29 L1273.94,1307.03 L1291.17,1307.03 L1299.79,1324.29 L1291.17,1341.56 L1273.94,1341.56Z M1265.33,1358.82 L1273.94,1341.56 L1291.17,1341.56 L1299.79,1358.82 L1291.17,1376.09 L1273.94,1376.09Z M1265.33,1393.35 L1273.94,1376.09 L1291.17,1376.09 L1299.79,1393.35 L1291.17,1410.62 L1273.94,1410.62Z M1265.33,1427.88 L1273.94,1410.62 L1291.17,1410.62 L1299.79,1427.88 L1291.17,1445.15 L1273.94,1445.15Z M1265.33,1462.41 L1273.94,1445.15 L1291.17,1445.15 L1299.79,1462.41 L1291.17,1479.68 L1273.94,1479.68Z M1265.33,1496.94 L1273.94,1479.68 L1291.17,1479.68 L1299.79,1496.94 L1291.17,1514.21 L1273.94,1514.21Z M1265.33,1531.47 L1273.94,1514.21 L1291.17,1514.21 L1299.79,1531.47 L1291.17,1548.74 L1273.94,1548.74Z M1265.33,1566.00 L1273.94,1548.74 L1291.17,1548.74 L1299.79,1566.00 L1291.17,1583.27 L1273.94,1583.27Z M1265.33,1600.53 L1273.94,1583.27 L1291.17,1583.27 L1299.79,1600.53 L1291.17,1617.80 L1273.94,1617.80Z M1265.33,1635.06 L1273.94,1617.80 L1291.17,1617.80 L1299.79,1635.06 L1291.17,1652.33 L1273.94,1652.33Z M1291.17,1237.97 L1299.79,1220.70 L1317.02,1220.70 L1325.63,1237.97 L1317.02,1255.23 L1299.79,1255.23Z M1291.17,1272.50 L1299.79,1255.23 L1317.02,1255.23 L1325.63,1272.50 L1317.02,1289.76 L1299.79,1289.76Z M1291.17,1307.03 L1299.79,1289.76 L1317.02,1289.76 L1325.63,1307.03 L1317.02,1324.29 L1299.79,1324.29Z M1291.17,1341.56 L1299.79,1324.29 L1317.02,1324.29 L1325.63,1341.56 L1317.02,1358.82 L1299.79,1358.82Z M1291.17,1376.09 L1299.79,1358.82 L1317.02,1358.82 L1325.63,1376.09 L1317.02,1393.35 L1299.79,1393.35Z M1291.17,1410.62 L1299.79,1393.35 L1317.02,1393.35 L1325.63,1410.62 L1317.02,1427.88 L1299.79,1427.88Z M1291.17,1445.15 L1299.79,1427.88 L1317.02,1427.88 L1325.63,1445.15 L1317.02,1462.41 L1299.79,1462.41Z M1291.17,1479.68 L1299.79,1462.41 L1317.02,1462.41 L1325.63,1479.68 L1317.02,1496.94 L1299.79,1496.94Z M1291.17,1514.21 L1299.79,1496.94 L1317.02,1496.94 L1325.63,1514.21 L1317.02,1531.47 L1299.79,1531.47Z M1291.17,1548.74 L1299.79,1531.47 L1317.02,1531.47 L1325.63,1548.74 L1317.02,1566.00 L1299.79,1566.00Z M1291.17,1583.27 L1299.79,1566.00 L1317.02,1566.00 L1325.63,1583.27 L1317.02,1600.53 L1299.79,1600.53Z M1291.17,1617.80 L1299.79,1600.53 L1317.02,1600.53 L1325.63,1617.80 L1317.02,1635.06 L1299.79,1635.06Z M1291.17,1652.33 L1299.79,1635.06 L1317.02,1635.06 L1325.63,1652.33 L1317.02,1669.59 L1299.79,1669.59Z M1317.01,1255.23 L1325.63,1237.97 L1342.86,1237.97 L1351.47,1255.23 L1342.86,1272.50 L1325.63,1272.50Z M1317.01,1289.76 L1325.63,1272.50 L1342.86,1272.50 L1351.47,1289.76 L1342.86,1307.03 L1325.63,1307.03Z M1317.01,1324.29 L1325.63,1307.03 L1342.86,1307.03 L1351.47,1324.29 L1342.86,1341.56 L1325.63,1341.56Z M1317.01,1358.82 L1325.63,1341.56 L1342.86,1341.56 L1351.47,1358.82 L1342.86,1376.09 L1325.63,1376.09Z M1317.01,1393.35 L1325.63,1376.09 L1342.86,1376.09 L1351.47,1393.35 L1342.86,1410.62 L1325.63,1410.62Z M1317.01,1427.88 L1325.63,1410.62 L1342.86,1410.62 L1351.47,1427.88 L1342.86,1445.15 L1325.63,1445.15Z M1317.01,1462.41 L1325.63,1445.15 L1342.86,1445.15 L1351.47,1462.41 L1342.86,1479.68 L1325.63,1479.68Z M1317.01,1496.94 L1325.63,1479.68 L1342.86,1479.68 L1351.47,1496.94 L1342.86,1514.21 L1325.63,1514.21Z M1317.01,1531.47 L1325.63,1514.21 L1342.86,1514.21 L1351.47,1531.47 L1342.86,1548.74 L1325.63,1548.74Z M1317.01,1566.00 L1325.63,1548.74 L1342.86,1548.74 L1351.47,1566.00 L1342.86,1583.27 L1325.63,1583.27Z M1317.01,1600.53 L1325.63,1583.27 L1342.86,1583.27 L1351.47,1600.53 L1342.86,1617.80 L1325.63,1617.80Z M1317.01,1635.06 L1325.63,1617.80 L1342.86,1617.80 L1351.47,1635.06 L1342.86,1652.33 L1325.63,1652.33Z M1006.88,1427.88 L1015.49,1410.62 L1032.72,1410.62 L1041.34,1427.88 L1032.72,1445.15 L1015.49,1445.15Z M1006.88,1462.41 L1015.49,1445.15 L1032.72,1445.15 L1041.34,1462.41 L1032.72,1479.68 L1015.49,1479.68Z M1006.88,1496.94 L1015.49,1479.68 L1032.72,1479.68 L1041.34,1496.94 L1032.72,1514.21 L1015.49,1514.21Z M1032.72,1410.62 L1041.34,1393.35 L1058.57,1393.35 L1067.18,1410.62 L1058.57,1427.88 L1041.34,1427.88Z M1032.72,1445.15 L1041.34,1427.88 L1058.57,1427.88 L1067.18,1445.15 L1058.57,1462.41 L1041.34,1462.41Z M1032.72,1479.68 L1041.34,1462.41 L1058.57,1462.41 L1067.18,1479.68 L1058.57,1496.94 L1041.34,1496.94Z M1032.72,1514.21 L1041.34,1496.94 L1058.57,1496.94 L1067.18,1514.21 L1058.57,1531.47 L1041.34,1531.47Z M1058.57,1393.35 L1067.18,1376.09 L1084.41,1376.09 L1093.03,1393.35 L1084.41,1410.62 L1067.18,1410.62Z M1058.57,1427.88 L1067.18,1410.62 L1084.41,1410.62 L1093.03,1427.88 L1084.41,1445.15 L1067.18,1445.15Z M1058.57,1462.41 L1067.18,1445.15 L1084.41,1445.15 L1093.03,1462.41 L1084.41,1479.68 L1067.18,1479.68Z M1058.57,1496.94 L1067.18,1479.68 L1084.41,1479.68 L1093.03,1496.94 L1084.41,1514.21 L1067.18,1514.21Z M1058.57,1531.47 L1067.18,1514.21 L1084.41,1514.21 L1093.03,1531.47 L1084.41,1548.74 L1067.18,1548.74Z M1084.41,1410.62 L1093.02,1393.35 L1110.25,1393.35 L1118.87,1410.62 L1110.25,1427.88 L1093.02,1427.88Z M1084.41,1445.15 L1093.02,1427.88 L1110.25,1427.88 L1118.87,1445.15 L1110.25,1462.41 L1093.02,1462.41Z M1084.41,1479.68 L1093.02,1462.41 L1110.25,1462.41 L1118.87,1479.68 L1110.25,1496.94 L1093.02,1496.94Z M1084.41,1514.21 L1093.02,1496.94 L1110.25,1496.94 L1118.87,1514.21 L1110.25,1531.47 L1093.02,1531.47Z M1110.26,1427.88 L1118.87,1410.62 L1136.10,1410.62 L1144.72,1427.88 L1136.10,1445.15 L1118.87,1445.15Z M1110.26,1462.41 L1118.87,1445.15 L1136.10,1445.15 L1144.72,1462.41 L1136.10,1479.68 L1118.87,1479.68Z M1110.26,1496.94 L1118.87,1479.68 L1136.10,1479.68 L1144.72,1496.94 L1136.10,1514.21 L1118.87,1514.21Z" fill="none" stroke="#000" stroke-width="2.3" stroke-linejoin="miter"/>
<text x="629.62" y="1812.80" font-family='"Liberation Serif", serif' font-size="36.00" font-weight="normal" textLength="872.06" lengthAdjust="spacing" >(Les 19 pixels de la tache formée par Saturne ont été grisés)</text>
<path d="M194.00,1972.50 H1872.00 M194.00,2700.00 H1872.00" stroke="#000" stroke-width="2.6" fill="none"/>
<path d="M195.50,1971.20 V2701.30 M1870.50,1971.20 V2701.30" stroke="#000" stroke-width="3" fill="none"/>
<path d="M202.20,1983.40 H419.20 M202.20,2062.50 H419.20" stroke="#000" stroke-width="2.4" fill="none"/>
<path d="M203.50,1982.20 V2063.70 M417.90,1982.20 V2063.70" stroke="#000" stroke-width="2.6" fill="none"/>
<text x="229.19" y="2035.90" font-family='"Liberation Serif", serif' font-size="41.67" font-weight="normal" textLength="139.13" lengthAdjust="spacing" >Figure 3</text>
<path d="M493.00,1983.70 A584.50,564.80 0 0 1 1077.50,2548.50" fill="none" stroke="#000" stroke-width="2.9" stroke-linecap="round"/>
<path d="M493.00,2003.00 A555.00,546.00 0 0 1 1048.00,2549.00" fill="none" stroke="#000" stroke-width="2.6" stroke-dasharray="8.4 9.2" stroke-linecap="round"/>
<path d="M493.00,2052.40 A505.20,496.60 0 0 1 998.20,2549.00" fill="none" stroke="#000" stroke-width="2.6" stroke-dasharray="8.4 9.2" stroke-linecap="round"/>
<path d="M493.00,2072.60 A485.50,479.20 0 0 1 978.50,2551.80" fill="none" stroke="#000" stroke-width="2.9" stroke-linecap="round"/>
<circle cx="795.80" cy="2087.30" r="14.00" fill="#fff" stroke="#000" stroke-width="2.4"/>
<circle cx="914.40" cy="2225.80" r="43.60" fill="#fff" stroke="#000" stroke-width="2.6"/>
<circle cx="973.70" cy="2394.10" r="14.00" fill="#fff" stroke="#000" stroke-width="2.4"/>
<text x="834.69" y="2044.00" font-family='"Liberation Serif", serif' font-size="41.67" font-weight="normal" >B</text>
<text x="983.59" y="2143.30" font-family='"Liberation Serif", serif' font-size="41.67" font-weight="normal" >Pan</text>
<text x="885.48" y="2459.40" font-family='"Liberation Serif", serif' font-size="41.67" font-weight="normal" >A</text>
<path d="M1265.00,2025.20 A584.50,564.80 0 0 1 1849.50,2590.00" fill="none" stroke="#000" stroke-width="2.9" stroke-linecap="round"/>
<path d="M1265.00,2044.50 A555.00,546.00 0 0 1 1820.00,2590.50" fill="none" stroke="#000" stroke-width="2.6" stroke-dasharray="8.4 9.2" stroke-linecap="round"/>
<path d="M1265.00,2093.90 A505.20,496.60 0 0 1 1770.15,2583.20" fill="none" stroke="#000" stroke-width="2.6" stroke-dasharray="8.4 9.2" stroke-linecap="round"/>
<path d="M1265.00,2114.10 A485.50,479.20 0 0 1 1750.29,2579.30" fill="none" stroke="#000" stroke-width="2.9" stroke-linecap="round"/>
<circle cx="1567.80" cy="2128.80" r="14.00" fill="#fff" stroke="#000" stroke-width="2.4"/>
<circle cx="1686.40" cy="2267.30" r="43.60" fill="#fff" stroke="#000" stroke-width="2.6"/>
<circle cx="1745.70" cy="2435.60" r="14.00" fill="#fff" stroke="#000" stroke-width="2.4"/>
<text x="1606.69" y="2085.50" font-family='"Liberation Serif", serif' font-size="41.67" font-weight="normal" >B</text>
<text x="1755.59" y="2184.80" font-family='"Liberation Serif", serif' font-size="41.67" font-weight="normal" >Pan</text>
<text x="1657.48" y="2500.90" font-family='"Liberation Serif", serif' font-size="41.67" font-weight="normal" >A</text>
<path d="M323.40,2181.40 H554.40 M323.40,2260.20 H554.40" stroke="#000" stroke-width="2.4" fill="none"/>
<path d="M324.60,2180.20 V2261.40 M553.20,2180.20 V2261.40" stroke="#000" stroke-width="2.4" fill="none"/>
<text x="350.49" y="2233.90" font-family='"Liberation Serif", serif' font-size="41.67" font-weight="normal" textLength="169.28" lengthAdjust="spacing" >Figure 3.a</text>
<path d="M1135.70,2171.00 H1366.50 M1135.70,2250.80 H1366.50" stroke="#000" stroke-width="2.4" fill="none"/>
<path d="M1136.90,2169.80 V2252.00 M1365.30,2169.80 V2252.00" stroke="#000" stroke-width="2.4" fill="none"/>
<text x="1162.79" y="2224.00" font-family='"Liberation Serif", serif' font-size="41.67" font-weight="normal" textLength="172.29" lengthAdjust="spacing" >Figure 3.b</text>
<circle cx="470.30" cy="2524.00" r="124.70" fill="none" stroke="#000" stroke-width="2.3"/>
<polyline points="464.0,2356.0 464.0,2527.0 635.0,2527.0" fill="none" stroke="#000" stroke-width="2.3"/>
<polygon points="464.00,2330.40 450.70,2356.90 477.30,2356.90" fill="#000"/>
<polygon points="661.60,2527.00 634.70,2513.50 634.70,2540.50" fill="#000"/>
<text x="624.19" y="2653.70" font-family='"Liberation Serif", serif' font-size="41.67" font-weight="normal" textLength="348.35" lengthAdjust="spacing" >Référentiel saturnien</text>
<circle cx="1242.10" cy="2565.80" r="124.30" fill="none" stroke="#000" stroke-width="2.3"/>
<line x1="1245.90" y1="2566.60" x2="1151.27" y2="2438.48" stroke="#000" stroke-width="2.3" />
<polygon points="1137.10,2419.30 1163.54,2432.71 1142.15,2448.52" fill="#000"/>
<line x1="1245.90" y1="2566.60" x2="1384.29" y2="2472.33" stroke="#000" stroke-width="2.3" />
<polygon points="1404.00,2458.90 1389.59,2484.81 1374.61,2462.83" fill="#000"/>
<text x="1399.09" y="2648.80" font-family='"Liberation Serif", serif' font-size="41.67" font-weight="normal" textLength="396.02" lengthAdjust="spacing" >Référentiel saturno-Pan</text>
<line x1="191.90" y1="2789.80" x2="1875.30" y2="2789.80" stroke="#000" stroke-width="2.0" />
<text x="196.18" y="2825.80" font-family='"Liberation Serif", serif' font-size="34.72" font-weight="normal" textLength="1428.97" lengthAdjust="spacing" >CONCOURS COMMUN SUP 2008 DES ÉCOLES DES MINES D'ALBI, ALÈS, DOUAI, NANTES</text>
<line x1="197.00" y1="2830.60" x2="1624.00" y2="2830.60" stroke="#000" stroke-width="2.0" />
<text x="197.01" y="2865.90" font-family='"Liberation Serif", serif' font-size="34.72" font-weight="bold" textLength="979.12" lengthAdjust="spacing" >Épreuve Spécifique de Physique-Chimie (filière PCSI - option PC)</text>
<text x="1611.69" y="2865.90" font-family='"Liberation Sans", sans-serif' font-size="30.60" font-weight="normal" textLength="160.45" lengthAdjust="spacing" >Page 16/16</text>
</svg>
</body></html>
